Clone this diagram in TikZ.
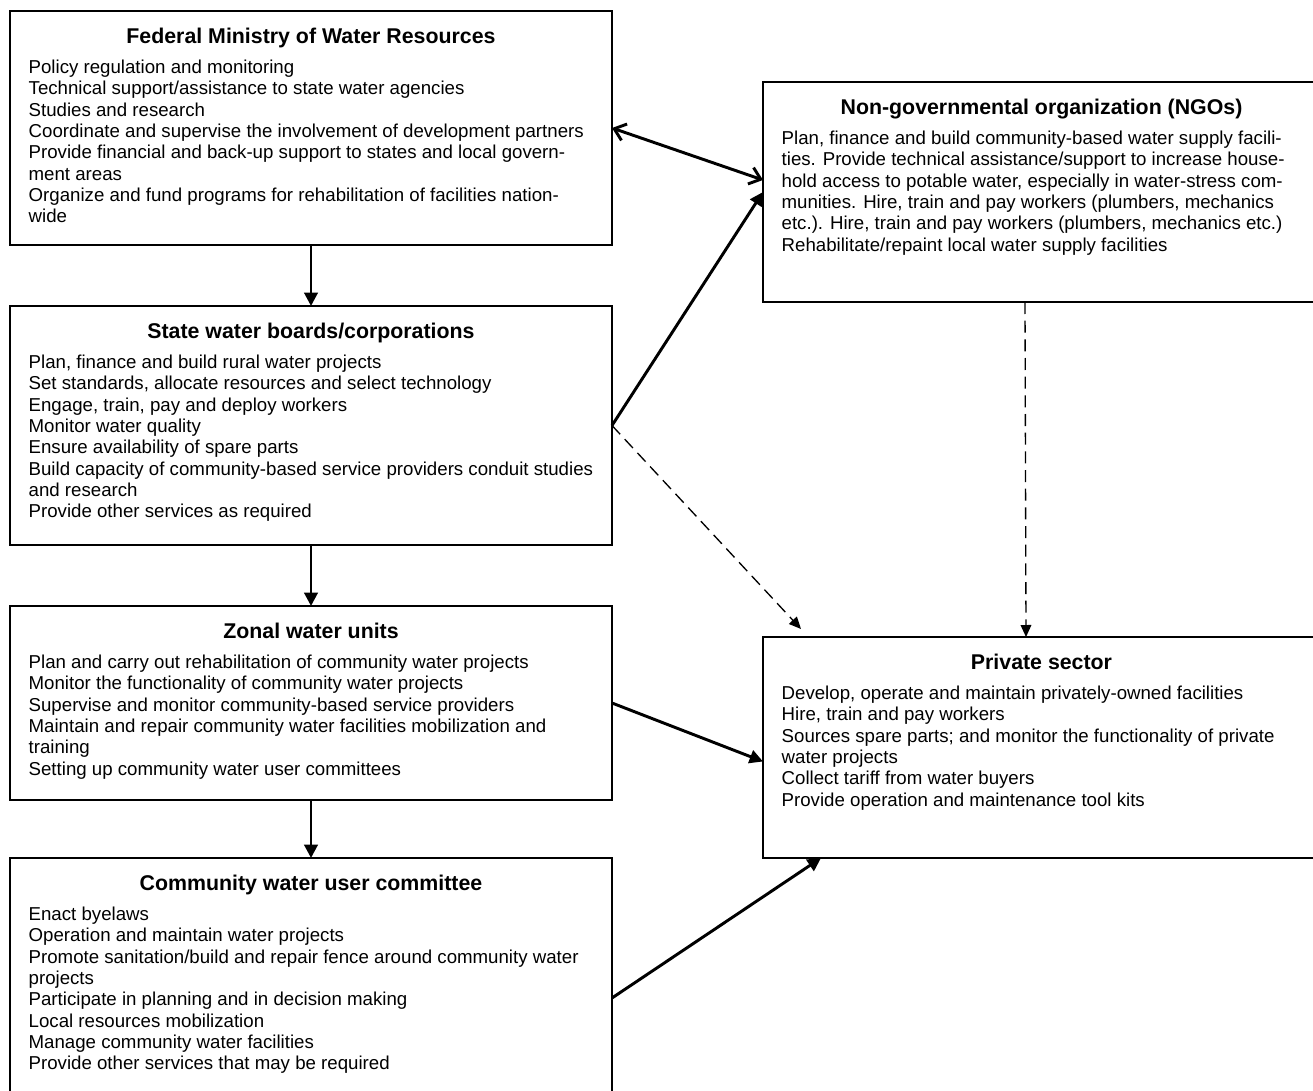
\documentclass[tikz,border=0pt]{standalone}
\usepackage{fontspec}
\setmainfont{Liberation Sans}
\usetikzlibrary{arrows.meta, positioning, calc}

% box text: width, height, title, lines
\newcommand{\orgtext}[4]{%
  \parbox[c][#2][t]{#1}{\fontsize{14}{16}\selectfont\vspace*{12.6pt}%
    {\centering\fontsize{16}{16}\selectfont\bfseries\rule{0pt}{11.5pt}#3\par}\vspace{6.65pt}%
    \raggedright #4}}

\begin{document}
\begin{tikzpicture}[x=0.75pt, y=-0.75pt,
    orgbox/.style={rectangle, draw, line width=1.2pt, inner xsep=14pt, inner ysep=0pt, outer sep=0pt},
    mainarrow/.style={line width=2.2pt, -{Triangle[length=10pt, width=10pt]}},
    linkboth/.style={line width=2.2pt, {Straight Barb[length=8pt, width=13pt]}-{Straight Barb[length=8pt, width=13pt]}},
    dasharrow/.style={line width=1pt, dash pattern=on 9pt off 5pt, -{Triangle[length=9pt, width=8pt]}}]
    \useasboundingbox (0,0) rectangle (1313,1091);

    % Government side
    \node[orgbox, anchor=north west] (fed) at (10,11) {\orgtext{423.5pt}{175.5pt}{Federal Ministry of Water Resources}{%
        Policy regulation and monitoring\\
        Technical support/assistance to state water agencies\\
        Studies and research\\
        Coordinate and supervise the involvement of development partners\\
        Provide financial and back-up support to states and local govern-\\
        ment areas\\
        Organize and fund programs for rehabilitation of facilities nation-\\
        wide}};
    \node[orgbox, below=45.75pt of fed] (state) {\orgtext{423.5pt}{179.25pt}{State water boards/corporations}{%
        Plan, finance and build rural water projects\\
        Set standards, allocate resources and select technology\\
        Engage, train, pay and deploy workers\\
        Monitor water quality\\
        Ensure availability of spare parts\\
        Build capacity of community-based service providers conduit studies\\
        and research\\
        Provide other services as required}};
    \node[orgbox, below=45.75pt of state] (zonal) {\orgtext{423.5pt}{145.5pt}{Zonal water units}{%
        Plan and carry out rehabilitation of community water projects\\
        Monitor the functionality of community water projects\\
        Supervise and monitor community-based service providers\\
        Maintain and repair community water facilities mobilization and\\
        training\\
        Setting up community water user committees}};
    \node[orgbox, below=43.5pt of zonal] (comm) {\orgtext{423.5pt}{210pt}{Community water user committee}{%
        Enact byelaws\\
        Operation and maintain water projects\\
        Promote sanitation/build and repair fence around community water\\
        projects\\
        Participate in planning and in decision making\\
        Local resources mobilization\\
        Manage community water facilities\\
        Provide other services that may be required}};

    % NGOs and private sector
    \node[orgbox, anchor=north west] (ngo) at (763,82) {\orgtext{389.75pt}{165pt}{Non-governmental organization (NGOs)}{%
        Plan, finance and build community-based water supply facili-\\
        ties. Provide technical assistance/support to increase house-\\
        hold access to potable water, especially in water-stress com-\\
        munities. Hire, train and pay workers (plumbers, mechanics\\
        etc.). Hire, train and pay workers (plumbers, mechanics etc.)\\
        Rehabilitate/repaint local water supply facilities}};
    \node[orgbox, below=251.25pt of ngo] (priv) {\orgtext{389.75pt}{165.75pt}{Private sector}{%
        Develop, operate and maintain privately-owned facilities\\
        Hire, train and pay workers\\
        Sources spare parts; and monitor the functionality of private\\
        water projects\\
        Collect tariff from water buyers\\
        Provide operation and maintenance tool kits}};

    % Arrows
    \draw[mainarrow] (fed) -- (state);
    \draw[mainarrow] (state) -- (zonal);
    \draw[mainarrow] (zonal) -- (comm);

    \draw[linkboth] (fed.east) -- ($(ngo.west)+(0,-12)$);
    \draw[mainarrow] (state.east) -- (ngo.west);
    \draw[dasharrow] (state.east) -- ($(priv.north west)+(38,-8)$);
    \draw[dasharrow] ($(ngo.south west)+(262,0)$) -- ($(priv.north west)+(263,0)$);
    \draw[mainarrow] (zonal.east) -- ($(priv.west)+(0,14)$);
    \draw[mainarrow] (comm.east) -- ($(priv.south west)+(58,0)$);
\end{tikzpicture}
\end{document}
